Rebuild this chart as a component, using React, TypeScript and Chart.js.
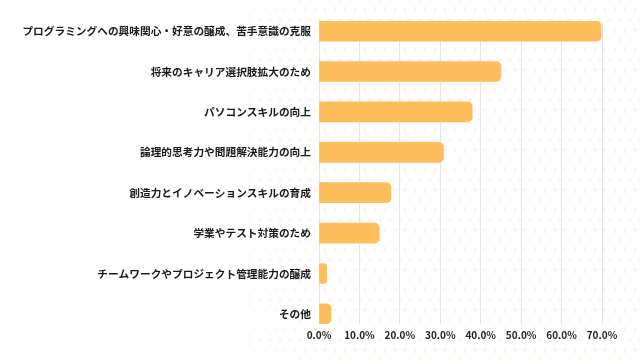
import React, { useEffect, useRef } from "react";
import { Chart, registerables } from "chart.js";

Chart.register(...registerables);

const categories = [
  "プログラミングへの興味関心・好意の醸成、苦手意識の克服",
  "将来のキャリア選択肢拡大のため",
  "パソコンスキルの向上",
  "論理的思考力や問題解決能力の向上",
  "創造力とイノベーションスキルの育成",
  "学業やテスト対策のため",
  "チームワークやプロジェクト管理能力の醸成",
  "その他",
];
const values = [69.8, 45.0, 37.9, 30.8, 17.8, 14.9, 1.9, 3.0];
const xTickValues = [0, 10, 20, 30, 40, 50, 60, 70];

const FONT = '"Noto Sans CJK JP", "Noto Sans", sans-serif';

export default function App() {
  const ref = useRef<HTMLCanvasElement>(null);

  useEffect(() => {
    const chart = new Chart(ref.current as HTMLCanvasElement, {
      type: "bar",
      data: {
        datasets: [
          {
            data: values.map((v, i) => ({ x: v, y: i })),
            backgroundColor: "#FFBD5B",
            borderRadius: 5,
            borderSkipped: "start",
            barThickness: 20,
          },
        ],
      },
      options: {
        indexAxis: "y",
        responsive: false,
        animation: false,
        layout: { padding: { top: 21, right: 38, left: 0, bottom: 0 } },
        plugins: { legend: { display: false }, tooltip: { enabled: false } },
        scales: {
          x: {
            type: "linear",
            min: 0,
            max: 70,
            offset: false,
            afterBuildTicks: (s: any) => {
              s.ticks = xTickValues.map((v) => ({ value: v }));
            },
            afterFit: (s: any) => {
              s.height = 36;
            },
            ticks: {
              callback: (v: any) => Number(v).toFixed(1) + "%",
              color: "#222",
              font: { family: FONT, size: 10, weight: "bold" },
              padding: 5,
              maxRotation: 0,
            },
            grid: { color: "#e4e4e4", lineWidth: 1, drawTicks: false, offset: false },
            border: { display: false },
          },
          y: {
            type: "linear",
            reverse: true,
            min: -0.25,
            max: 7.25,
            offset: false,
            bounds: "data",
            afterBuildTicks: (s: any) => {
              s.ticks = categories.map((_, i) => ({ value: i }));
            },
            afterFit: (s: any) => {
              s.width = 319;
            },
            ticks: {
              callback: (v: any) => categories[v as number] ?? "",
              color: "#1a1a1a",
              font: { family: FONT, size: 10.7, weight: "bold" },
              padding: 8,
              autoSkip: false,
            },
            grid: { display: false, drawTicks: false, offset: false },
            border: { display: false },
          },
        },
      },
    } as any);
    return () => chart.destroy();
  }, []);

  return (
    <div
      style={{
        position: "fixed",
        left: 0,
        top: 0,
        width: 640,
        height: 360,
        background: "#ffffff",
        overflow: "hidden",
      }}
    >
      <div
        style={{
          position: "absolute",
          inset: 0,
          backgroundImage:
            "radial-gradient(circle, #fcf1e3 1.2px, transparent 1.7px), radial-gradient(circle, #fcf1e3 1.2px, transparent 1.7px)",
          backgroundSize: "10px 20px, 10px 20px",
          backgroundPosition: "0px 0px, 5px 10px",
          WebkitMaskImage: "linear-gradient(to right, transparent 170px, black 330px)",
          maskImage: "linear-gradient(to right, transparent 170px, black 330px)",
        }}
      />
      <canvas
        ref={ref}
        width={640}
        height={360}
        style={{ position: "absolute", left: 0, top: 0, width: 640, height: 360 }}
      />
    </div>
  );
}
